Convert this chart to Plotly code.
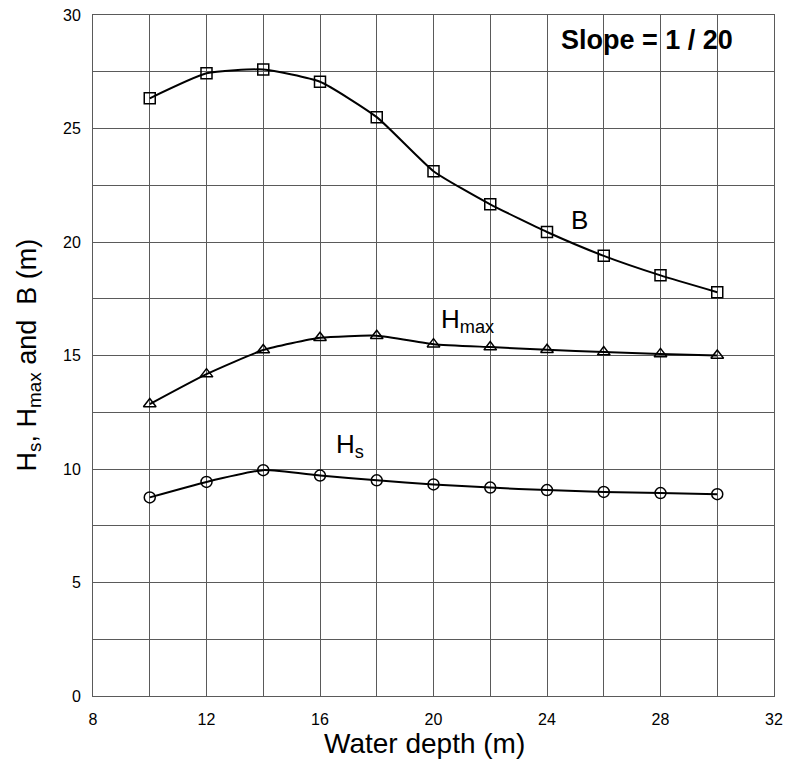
import plotly.graph_objects as go

depth = [10, 12, 14, 16, 18, 20, 22, 24, 26, 28, 30]
B = [26.33, 27.43, 27.6, 27.06, 25.5, 23.12, 21.66, 20.44, 19.39, 18.53, 17.79]
Hmax = [12.86, 14.18, 15.24, 15.78, 15.87, 15.5, 15.37, 15.25, 15.15, 15.07, 15.0]
Hs = [8.75, 9.43, 9.95, 9.71, 9.5, 9.32, 9.18, 9.07, 8.99, 8.94, 8.89]

FONT = "Liberation Sans, Arial, sans-serif"
GRID = "#5a5a5a"

fig = go.Figure()
for y, sym, sz in [(B, "square-open", 11), (Hmax, "triangle-up-open", 11), (Hs, "circle-open", 11)]:
    fig.add_trace(go.Scatter(
        x=depth, y=y, mode="lines+markers",
        line=dict(color="black", width=2, shape="spline", smoothing=0.5),
        marker=dict(symbol=sym, size=sz, color="black", line=dict(width=1.5, color="black")),
        showlegend=False,
    ))

fig.add_annotation(x=25.13, y=20.97, text="B", showarrow=False,
                   font=dict(family=FONT, size=26, color="black"))
fig.add_annotation(x=20.2, y=16.55, text="H<sub>max</sub>", showarrow=False, xanchor="left",
                   font=dict(family=FONT, size=26, color="black"))
fig.add_annotation(x=16.5, y=11.05, text="H<sub>s</sub>", showarrow=False, xanchor="left",
                   font=dict(family=FONT, size=26, color="black"))
fig.add_annotation(x=0.943, y=0.963, xref="paper", yref="paper", text="<b>Slope = 1 / 20</b>",
                   showarrow=False, xanchor="right", yanchor="middle",
                   font=dict(family=FONT, size=27, color="black"))

# axis titles
fig.add_annotation(x=0.4875, y=-0.0695, xref="paper", yref="paper", text="Water depth (m)",
                   showarrow=False, xanchor="center", yanchor="middle",
                   font=dict(family=FONT, size=28, color="black"))
fig.add_annotation(x=-0.0954, y=0.5, xref="paper", yref="paper",
                   text="H<sub>s</sub>, H<sub>max</sub> and  B (m)", textangle=-90,
                   showarrow=False, xanchor="center", yanchor="middle",
                   font=dict(family=FONT, size=27, color="black"))

fig.update_layout(
    width=789, height=766,
    margin=dict(l=93, r=15, t=15, b=70),
    plot_bgcolor="white", paper_bgcolor="white",
    font=dict(family=FONT, color="black", size=16),
    xaxis=dict(
        range=[8, 32], dtick=4, tick0=8, showgrid=True, gridcolor=GRID, gridwidth=1,
        minor=dict(dtick=2, showgrid=True, gridcolor=GRID, gridwidth=1),
        showline=True, linecolor=GRID, linewidth=1, mirror=True, zeroline=False,
        ticks="outside", ticklen=9, tickcolor="rgba(0,0,0,0)", tickfont=dict(size=16),
        automargin=False,
    ),
    yaxis=dict(
        range=[0, 30], dtick=5, tick0=0, showgrid=True, gridcolor=GRID, gridwidth=1,
        minor=dict(dtick=2.5, showgrid=True, gridcolor=GRID, gridwidth=1),
        showline=True, linecolor=GRID, linewidth=1, mirror=True, zeroline=False,
        ticks="outside", ticklen=8, tickcolor="rgba(0,0,0,0)", tickfont=dict(size=16),
        automargin=False,
    ),
)

fig.write_html("out.html")
